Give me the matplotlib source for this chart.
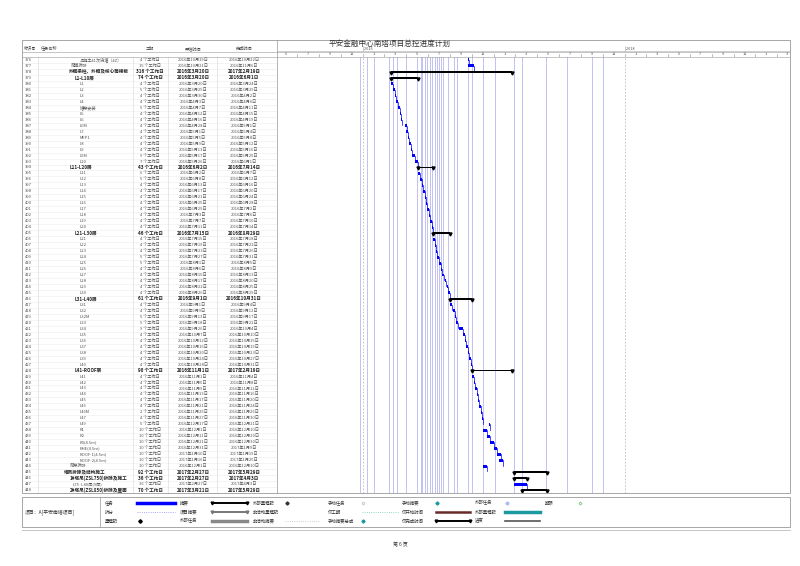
import matplotlib
matplotlib.use("Agg")
import matplotlib.pyplot as plt
import pandas as pd

plt.rcParams["font.family"] = ["Noto Sans CJK SC", "DejaVu Sans"]

TITLE = "平安金融中心南塔项目总控进度计划"

task_ids = list(range(376, 449))
task_names = [
    "混凝土41次浇灌（4Z）", "爬模拆除", "外框梁柱、外框及核心筒楼板", "L1-L10层",
    "L1", "L2", "L3", "L4", "塔架安装", "L5", "L6", "L6M", "L7", "MEP1", "L8", "L9", "L9M", "L10",
    "L11-L20层", "L11", "L12", "L13", "L14", "L15", "L16", "L17", "L18", "L19", "L20",
    "L21-L30层", "L21", "L22", "L23", "L24", "L25", "L26", "L27", "L28", "L29", "L30",
    "L31-L40层", "L31", "L32", "L32M", "L33", "L34", "L35", "L36", "L37", "L38", "L39", "L40",
    "L41-ROOF层", "L41", "L42", "L43", "L44", "L45", "L46", "L46M", "L47", "L49",
    "R1", "R2", "R3(4.5m)", "RHE(4.5m)", "ROOF-1(4.5m)", "ROOF-2(4.5m)", "爬架拆除",
    "塔吊拆除及结构施工", "1#塔吊(ZSL750)拆除及施工", "L75~L80层(9层)", "2#塔吊(ZSL850)拆除及屋面",
]
durations = [
    4, 15, 316, 74,
    4, 5, 4, 4, 5, 4, 4, 4, 4, 4, 4, 4, 9, 7,
    43, 6, 5, 4, 4, 4, 4, 4, 4, 4, 4,
    46, 4, 4, 4, 5, 5, 4, 4, 4, 4, 4,
    61, 4, 4, 5, 5, 9, 4, 4, 4, 4, 4, 4,
    90, 4, 4, 4, 4, 4, 4, 2, 4, 5,
    10, 10, 10, 10, 10, 10, 10,
    92, 36, 36, 70,
]
starts = [
    "2016-10-19", "2016-10-21", "2016-03-20", "2016-03-20",
    "2016-03-20", "2016-03-25", "2016-03-30", "2016-04-03", "2016-04-07", "2016-04-12",
    "2016-04-16", "2016-04-28", "2016-05-01", "2016-05-05", "2016-05-09", "2016-05-13",
    "2016-05-17", "2016-05-26",
    "2016-06-02", "2016-06-02", "2016-06-08", "2016-06-13", "2016-06-17", "2016-06-21",
    "2016-06-25", "2016-06-29", "2016-07-03", "2016-07-07", "2016-07-11",
    "2016-07-15", "2016-07-15", "2016-07-19", "2016-07-23", "2016-07-27", "2016-08-01",
    "2016-08-06", "2016-08-10", "2016-08-17", "2016-08-22", "2016-08-26",
    "2016-09-01", "2016-09-01", "2016-09-09", "2016-09-13", "2016-09-18", "2016-09-26",
    "2016-10-07", "2016-10-12", "2016-10-16", "2016-10-20", "2016-10-24", "2016-10-28",
    "2016-11-01", "2016-11-01", "2016-11-05", "2016-11-09", "2016-11-13", "2016-11-17",
    "2016-11-21", "2016-11-25", "2016-11-27", "2016-12-17",
    "2016-12-01", "2016-12-11", "2016-12-21", "2016-12-31", "2017-01-10", "2017-01-16",
    "2016-12-01",
    "2017-02-27", "2017-02-27", "2017-02-27", "2017-03-21",
]
finishes = [
    "2016-10-22", "2016-11-06", "2017-02-19", "2016-06-01",
    "2016-03-24", "2016-03-29", "2016-04-02", "2016-04-06", "2016-04-11", "2016-04-15",
    "2016-04-19", "2016-05-01", "2016-05-04", "2016-05-08", "2016-05-12", "2016-05-16",
    "2016-05-25", "2016-06-01",
    "2016-07-14", "2016-06-07", "2016-06-12", "2016-06-16", "2016-06-20", "2016-06-24",
    "2016-06-28", "2016-07-02", "2016-07-06", "2016-07-10", "2016-07-14",
    "2016-08-29", "2016-07-18", "2016-07-22", "2016-07-26", "2016-07-31", "2016-08-05",
    "2016-08-09", "2016-08-13", "2016-08-20", "2016-08-25", "2016-08-29",
    "2016-10-31", "2016-09-04", "2016-09-12", "2016-09-17", "2016-09-22", "2016-10-04",
    "2016-10-10", "2016-10-15", "2016-10-19", "2016-10-23", "2016-10-27", "2016-10-31",
    "2017-02-19", "2016-11-04", "2016-11-08", "2016-11-12", "2016-11-16", "2016-11-20",
    "2016-11-24", "2016-11-26", "2016-11-30", "2016-12-21",
    "2016-12-10", "2016-12-20", "2016-12-30", "2017-01-09", "2017-01-19", "2017-01-25",
    "2016-12-10",
    "2017-05-29", "2017-04-03", "2017-04-03", "2017-05-29",
]
summary_ids = [378, 379, 394, 405, 416, 428, 445, 446, 448]
# left edge (px) of the task name, by id; default for plain tasks
name_x = {376: 80, 377: 71, 378: 69, 379: 75, 394: 70, 405: 75, 416: 75, 428: 75,
          444: 70, 445: 64, 446: 70, 447: 73, 448: 70}

# light blue link lines running through the whole timeline
link_dates = [
    "2015-12-23", "2016-01-11", "2016-02-01", "2016-03-15", "2016-03-24", "2016-04-06",
    "2016-05-01", "2016-06-01", "2016-06-10", "2016-06-15", "2016-06-22", "2016-06-29",
    "2016-07-05", "2016-07-12", "2016-07-19", "2016-07-26", "2016-08-01", "2016-08-05",
    "2016-08-12", "2016-08-25", "2016-09-10", "2016-09-20", "2016-10-20", "2016-11-01",
    "2016-12-01", "2017-01-05", "2017-02-25", "2017-03-20",
    "2017-05-25", "2017-07-25", "2017-10-01", "2017-10-31",
]

df = pd.DataFrame({
    "id": task_ids, "name": task_names, "dur": durations,
    "start": pd.to_datetime(starts), "finish": pd.to_datetime(finishes),
})
n = len(df)

W, H = 800, 566
fig = plt.figure(figsize=(8, 5.66), dpi=100)


def frame(x0, y0, x1, y1):
    return [x0 / W, 1 - y1 / H, (x1 - x0) / W, (y1 - y0) / H]


def cn_date(d):
    return f"{d.year}年{d.month}月{d.day}日"


TOP, BOT = 57, 493
SPLIT = 277
FS = 3.0
TXT = "#555555"

# ---------- table ----------
tab = fig.add_axes(frame(22, TOP, SPLIT, BOT))
tab.set_xlim(22, SPLIT)
tab.set_ylim(n - 0.5, -0.5)
tab.axis("off")
for i, row in df.iterrows():
    bold = row["id"] in summary_ids
    w = "bold" if bold else "normal"
    fs = FS + 0.3 if bold else FS
    c = "#222222" if bold else TXT
    tab.axhline(i + 0.5, color="#ececec", lw=0.4)
    tab.text(25, i, str(row["id"]), fontsize=FS, va="center", color=TXT)
    tab.text(name_x.get(row["id"], 80), i, row["name"], fontsize=fs, va="center",
             fontweight=w, color=c)
    tab.text(150, i, f"{row['dur']} 个工作日", fontsize=fs, va="center", ha="center",
             fontweight=w, color=c)
    tab.text(193, i, cn_date(row["start"]), fontsize=fs, va="center", ha="center",
             fontweight=w, color=c)
    tab.text(244, i, cn_date(row["finish"]), fontsize=fs, va="center", ha="center",
             fontweight=w, color=c)
for xv in [38, 133, 168, 217]:
    tab.axvline(xv, color="#dddddd", lw=0.5)

# ---------- gantt ----------
ax = fig.add_axes(frame(SPLIT, TOP, 790, BOT))
t0 = pd.Timestamp("2016-01-01")
PXM = 10.9  # pixels per month
left = t0 - pd.Timedelta(days=(363 - SPLIT) / PXM * 30.44)
right = t0 + pd.Timedelta(days=(790 - 363) / PXM * 30.44)
ax.set_xlim(left, right)
ax.set_ylim(n - 0.5, -0.5)
ax.set_xticks([])
ax.set_yticks([])
for s in ax.spines.values():
    s.set_visible(False)

for d in pd.to_datetime(link_dates):
    ax.axvline(d, color="#b8b8f0", lw=0.6, zorder=1)
for d in ["2016-01-01", "2018-01-01"]:
    ax.axvline(pd.Timestamp(d), color="#bbbbbb", lw=0.6, ls=(0, (2, 2)), zorder=1)

for i, row in df.iterrows():
    st, fn = row["start"], row["finish"] + pd.Timedelta(days=1)
    if row["id"] in summary_ids:
        ax.barh(i, fn - st, left=st, height=0.3, color="black", zorder=3)
        ax.plot([st, fn], [i + 0.15, i + 0.15], ls="none", marker="v", ms=2.2,
                color="black", zorder=4)
    else:
        ax.barh(i, fn - st, left=st, height=0.5, color="#0000ff", zorder=3)
        ax.plot([fn, fn], [i, i + 0.9], color="#0000ff", lw=0.5, zorder=3)

# ---------- timescale header ----------
hdr = fig.add_axes(frame(SPLIT, 46, 790, 57))
hdr.set_xlim(left, right)
hdr.set_ylim(1, 0)
hdr.axis("off")
hdr.axhline(0.45, color="#aaaaaa", lw=0.4)
for yr in [2016, 2018]:
    hdr.text(pd.Timestamp(f"{yr}-01-01"), 0.25, f" {yr}", fontsize=2.8, va="center", color="#555")
    hdr.plot([pd.Timestamp(f"{yr}-01-01")] * 2, [0, 0.45], color="#aaaaaa", lw=0.4)
for mth in pd.date_range("2015-05-01", "2019-03-01", freq="2MS"):
    hdr.plot([mth, mth], [0.7, 1.0], color="#888888", lw=0.4)
    hdr.text(mth + pd.Timedelta(days=30), 0.72, str(mth.month), fontsize=2.8,
             ha="center", va="center", color="#444")

# ---------- frame lines, headers, titles ----------
page = fig.add_axes([0, 0, 1, 1])
page.set_xlim(0, W)
page.set_ylim(H, 0)
page.axis("off")
page.add_patch(plt.Rectangle((22, 40), 768, 453, fill=False, ec="#999999", lw=0.6))
page.plot([22, 790], [52, 52], color="#999999", lw=0.4)
page.plot([22, 790], [57, 57], color="#999999", lw=0.4)
page.plot([SPLIT, SPLIT], [40, 493], color="#999999", lw=0.5)
page.text(390, 44, TITLE, fontsize=5.5, ha="center", va="center", color="#333")
for x, txt in [(24, "标识号"), (41, "任务名称"), (150, "工期"), (193, "开始时间"), (244, "完成时间")]:
    page.text(x, 48.5, txt, fontsize=FS, va="center", color="#444",
              ha="left" if x < 100 else "center")

# legend box
page.add_patch(plt.Rectangle((22, 497), 768, 30, fill=False, ec="#999999", lw=0.6))
page.plot([22, 790], [530, 530], color="#bbbbbb", lw=0.6)
page.plot([100, 100], [497, 527], color="#999999", lw=0.5)
page.text(25, 512, "项目：A[平安南塔项目]", fontsize=3.5, va="center", color="#333")
rows_y = [503, 512, 521]
legend_cols = [
    (105, ["任务", "拆分", "里程碑"]),
    (180, ["摘要", "项目摘要", "外部任务"]),
    (253, ["外部里程碑", "非活动里程碑", "非活动摘要"]),
    (328, ["手动任务", "仅工期", "手动摘要总成"]),
    (402, ["手动摘要", "仅开始时间", "仅完成时间"]),
    (475, ["外部任务", "外部里程碑", "进度"]),
    (545, ["期限", "", ""]),
]
for x, labels in legend_cols:
    for y, lab in zip(rows_y, labels):
        page.text(x, y, lab, fontsize=3.2, va="center", color="#333")
# legend samples
page.plot([137, 175], [503, 503], color="#0000ff", lw=2.5)
page.plot([137, 175], [512, 512], color="#8888ff", lw=0.6, ls=":")
page.plot([140], [521], marker="D", ms=1.8, color="black")
page.plot([212, 247], [503, 503], color="black", lw=1.4, marker="v", ms=2, markevery=[0, 1])
page.plot([212, 247], [512, 512], color="#777777", lw=1.4, marker="v", ms=2, markevery=[0, 1])
page.plot([212, 247], [521, 521], color="#888888", lw=2.5)
page.plot([287], [503], marker="D", ms=1.6, color="#333")
page.plot([285, 320], [521, 521], color="#bbbbbb", lw=0.6, ls=":")
page.plot([363], [503], marker="D", ms=1.6, mfc="white", mec="#aaaaaa", mew=0.4)
page.plot([362, 398], [512, 512], color="#66ccaa", lw=0.6, ls=":")
page.plot([363], [521], marker="D", ms=1.6, color="#1a9aa0")
page.plot([437], [503], marker="D", ms=1.6, color="#1a9aa0")
page.plot([436, 470], [512, 512], color="#6b2a2a", lw=1.8)
page.plot([436, 470], [521, 521], color="black", lw=1.4, marker="v", ms=2, markevery=[0, 1])
page.plot([507], [503], marker="D", ms=1.6, color="#aabbee")
page.plot([505, 540], [512, 512], color="#1a9aa0", lw=2.5)
page.plot([505, 540], [521, 521], color="#555555", lw=1.2)
page.plot([580], [503], marker="D", ms=1.6, mfc="white", mec="#44aa44", mew=0.4)
page.text(400, 545, "第 6 页", fontsize=3.5, ha="center", va="center", color="#333")

fig.savefig("out.png", dpi=100)
